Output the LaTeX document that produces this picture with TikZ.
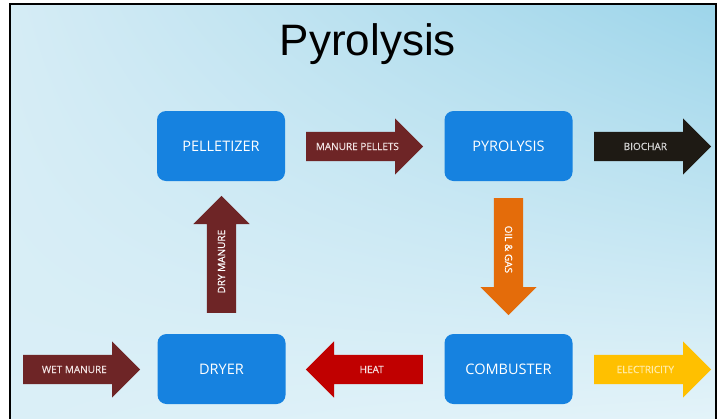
\documentclass[tikz,border=0pt]{standalone}
\usepackage{fontspec}
\setmainfont{Open Sans}
\newfontfamily\titlefont{Liberation Sans}
\newfontfamily\flowfont[FakeBold=0.4]{Open Sans}
\usetikzlibrary{shapes.arrows,shadings}

\definecolor{boxblue}{RGB}{22,130,224}
\definecolor{maroon}{RGB}{110,37,38}
\definecolor{charblack}{RGB}{30,26,20}
\definecolor{oilorange}{RGB}{228,108,10}
\definecolor{heatred}{RGB}{192,0,0}
\definecolor{elecyellow}{RGB}{255,192,0}
\definecolor{skyUL}{RGB}{213,236,245}
\definecolor{skyUR}{RGB}{157,213,234}
\definecolor{skyLL}{RGB}{218,239,247}
\definecolor{skyLR}{RGB}{227,243,249}
\definecolor{paletext}{RGB}{242,228,228}
\definecolor{greytext}{RGB}{215,215,215}
\definecolor{heattext}{RGB}{245,225,225}
\definecolor{electext}{RGB}{255,236,170}

\begin{document}
\begin{tikzpicture}[x=1pt,y=-1pt]
	\tikzstyle{unit} = [rectangle,rounded corners=9pt,fill=boxblue,text=white,
		minimum width=128pt,minimum height=70pt,font=\fontsize{14.5}{16}\selectfont]
	\tikzstyle{flow} = [single arrow,single arrow head extend=13.5pt,
		text height=7pt,text depth=0pt,inner xsep=0pt,inner ysep=11pt,
		minimum height=117pt,anchor=tail,
		font=\flowfont\fontsize{10}{11}\selectfont]
	
	\useasboundingbox (0,0) rectangle (720,418);
	\fill[white] (0,0) rectangle (720,418);
	\shade[upper left=skyUL,upper right=skyUR,lower left=skyLL,lower right=skyLR]
		(10,4) rectangle (716,418);
	\draw[line width=2.5pt] (10,430) -- (10,4) -- (716,4) -- (716,430);
	
	\node[font=\titlefont\fontsize{44}{48}\selectfont,anchor=base] (title) at (368,55) {Pyrolysis};
	
	% process units
	\node[unit] (pelletizer) at (221,146) {PELLETIZER};
	\node[unit] (pyrolysis) at (508.5,146) {PYROLYSIS};
	\node[unit] (dryer) at (221.5,369) {DRYER};
	\node[unit] (combuster) at (508.5,369) {COMBUSTER};
	
	% flows
	\node[flow,fill=maroon,text=paletext] (pellets) at (306,146.5) {MANURE PELLETS};
	\node[flow,fill=charblack,text=greytext] (biochar) at (594,146.5) {BIOCHAR};
	\node[flow,fill=maroon,text=white,rotate=90] (drymanure) at (221.5,313) {DRY MANURE};
	\node[flow,fill=oilorange,text=white,rotate=-90] (oilgas) at (508.5,198) {OIL \& GAS};
	\node[flow,fill=maroon,text=paletext] (wetmanure) at (23,369.5) {WET MANURE};
	\node[flow,fill=heatred,text=heattext,shape border rotate=180] (heat) at (423,369.5) {HEAT};
	\node[flow,fill=elecyellow,text=electext] (electricity) at (594,369.5) {ELECTRICITY};
\end{tikzpicture}
\end{document}
